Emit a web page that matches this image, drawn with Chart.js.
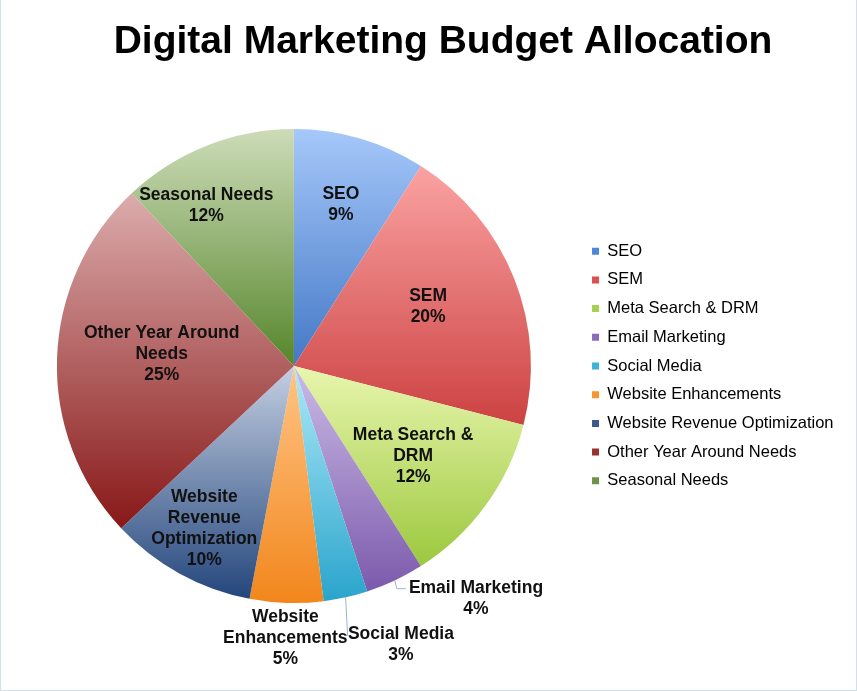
<!DOCTYPE html>
<html>
<head>
<meta charset="utf-8">
<script src="https://cdn.jsdelivr.net/npm/chart.js@4.4.1/dist/chart.umd.min.js"></script>
<style>
  body { margin: 0; background: #fff; }
  #wrap { width: 857px; height: 691px; position: relative; }
  #frame { position: absolute; left: 0; top: 0; width: 855px; height: 690px; border-left: 1px solid #d4dfea; border-right: 1px solid #d4dfea; border-bottom: 1px solid #d4dfea; pointer-events: none; }
</style>
</head>
<body>
<div id="wrap"><canvas id="myChart" width="857" height="691"></canvas><div id="frame"></div></div>
<script>
// chart data
const categories = [
    'SEO',
    'SEM',
    'Meta Search & DRM',
    'Email Marketing',
    'Social Media',
    'Website Enhancements',
    'Website Revenue Optimization',
    'Other Year Around Needs',
    'Seasonal Needs'
];
const shares = [9, 20, 12, 4, 3, 5, 10, 25, 12];
// how the in-pie labels wrap
const labelLines = [
    ['SEO'],
    ['SEM'],
    ['Meta Search &', 'DRM'],
    ['Email Marketing'],
    ['Social Media'],
    ['Website', 'Enhancements'],
    ['Website', 'Revenue', 'Optimization'],
    ['Other Year Around', 'Needs'],
    ['Seasonal Needs']
];

// gradient colours, light at the top of a slice, dark at the bottom
const colorTop = ['#a6c8fa', '#fba2a2', '#e8f6ae', '#cbbbe6', '#aeeaf8', '#ffc586', '#c4cfe2', '#dcacac', '#cddcb8'];
const colorBottom = ['#4478c6', '#cc4242', '#9cc83e', '#7c5aac', '#2aa4cc', '#f2861c', '#24467c', '#881818', '#56862c'];
const colorLegend = ['#4f86d8', '#d85252', '#a6d052', '#8a6cba', '#3cb4d8', '#f79434', '#3a5a8c', '#9a3030', '#6c9444'];

// label placement: angle shift (deg) and radius factor, outside ones get a leader line
const labelPlace = [
    {shift: 0, r: 0.71},
    {shift: -2.4, r: 0.62},
    {shift: 1, r: 0.63},
    {shift: -12.9, r: 1.245, leader: true},
    {shift: -8.4, r: 1.26, leader: true},
    {shift: 0, r: 1.15},
    {shift: 0, r: 0.785},
    {shift: 3.2, r: 0.56},
    {shift: -7.1, r: 0.77}
];

const FONT = "'Liberation Sans', Arial, sans-serif";

function sliceGradient(context) {
    const chart = context.chart;
    const area = chart.chartArea;
    const i = context.dataIndex;
    if (!area || i === undefined) return colorLegend[i] || '#888';
    const cx = (area.left + area.right) / 2;
    const cy = (area.top + area.bottom) / 2;
    const r = Math.min(area.right - area.left, area.bottom - area.top) / 2;
    let total = 0, before = 0;
    for (let k = 0; k < shares.length; k++) {
        total += shares[k];
        if (k < i) before += shares[k];
    }
    const a0 = -Math.PI / 2 + 2 * Math.PI * before / total;
    const a1 = a0 + 2 * Math.PI * shares[i] / total;
    let ys = [cy, cy + r * Math.sin(a0), cy + r * Math.sin(a1)];
    // bottom of circle at PI/2, top at 3PI/2 (= -PI/2)
    [Math.PI / 2, 3 * Math.PI / 2].forEach(function(a) {
        if (a > a0 && a < a1) ys.push(cy + r * Math.sin(a));
    });
    const y0 = Math.min.apply(null, ys);
    const y1 = Math.max.apply(null, ys);
    const g = chart.ctx.createLinearGradient(0, y0, 0, y1);
    g.addColorStop(0, colorTop[i]);
    g.addColorStop(1, colorBottom[i]);
    return g;
}

const pieLabels = {
    id: 'pieLabels',
    afterDatasetsDraw(chart) {
        const ctx = chart.ctx;
        const meta = chart.getDatasetMeta(0);
        let total = shares.reduce(function(a, b) { return a + b; }, 0);
        ctx.save();
        ctx.font = 'bold 17.5px ' + FONT;
        ctx.textAlign = 'center';
        ctx.textBaseline = 'middle';
        meta.data.forEach(function(arc, i) {
            const p = arc.getProps(['x', 'y', 'startAngle', 'endAngle', 'outerRadius'], true);
            const place = labelPlace[i];
            const mid = (p.startAngle + p.endAngle) / 2;
            const a = mid + place.shift * Math.PI / 180;
            const lx = p.x + Math.cos(a) * p.outerRadius * place.r;
            const ly = p.y + Math.sin(a) * p.outerRadius * place.r;
            const lines = labelLines[i].concat([Math.round(shares[i] / total * 100) + '%']);
            const lh = 21;
            const top = ly - (lines.length - 1) * lh / 2;
            if (place.leader) {
                const sx = p.x + Math.cos(mid) * p.outerRadius;
                const sy = p.y + Math.sin(mid) * p.outerRadius;
                const w = ctx.measureText(lines[0]).width;
                ctx.strokeStyle = '#9fb4cc';
                ctx.lineWidth = 1;
                ctx.beginPath();
                ctx.moveTo(sx, sy);
                ctx.lineTo(sx + 2, top + 1);
                ctx.lineTo(lx - w / 2 - 3, top + 1);
                ctx.stroke();
            }
            ctx.fillStyle = '#111';
            lines.forEach(function(t, k) {
                ctx.fillText(t, lx, top + k * lh);
            });
        });
        // chart title
        ctx.font = 'bold 39px ' + FONT;
        ctx.fillStyle = '#000';
        ctx.textBaseline = 'alphabetic';
        ctx.fillText('Digital Marketing Budget Allocation', 443, 53);
        ctx.restore();
    }
};

const data = {
    labels: categories,
    datasets: [{
        data: shares,
        backgroundColor: sliceGradient,
        borderWidth: 0
    }]
};

const config = {
    type: 'pie',
    data: data,
    options: {
        responsive: false,
        animation: false,
        events: [],
        layout: {
            padding: {top: 129, bottom: 88, left: 8, right: 13.5}
        },
        plugins: {
            title: {display: false},
            tooltip: {enabled: false},
            legend: {
                position: 'right',
                align: 'center',
                labels: {
                    boxWidth: 7,
                    boxHeight: 7,
                    padding: 12.2,
                    color: '#222',
                    font: {family: FONT, size: 16.5},
                    generateLabels: function(chart) {
                        return categories.map(function(c, i) {
                            return {text: c, fillStyle: colorLegend[i], strokeStyle: colorLegend[i], lineWidth: 0, index: i};
                        });
                    }
                }
            }
        }
    },
    plugins: [pieLabels]
};

const myChart = new Chart(document.getElementById('myChart'), config);
</script>
</body>
</html>
